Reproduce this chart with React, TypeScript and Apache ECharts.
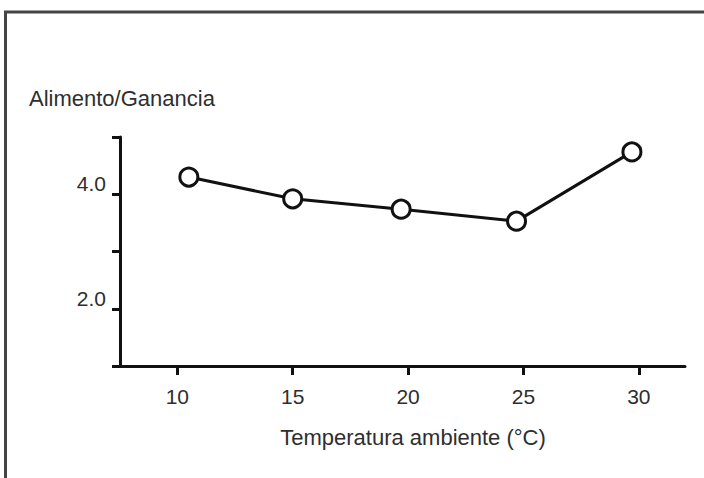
import React, { useEffect, useRef } from "react";
import * as echarts from "echarts";

const temperatures = [10.5, 15, 19.7, 24.7, 29.7];
const feedGain = [4.3, 3.92, 3.74, 3.53, 4.74];
const xTicks = [10, 15, 20, 25, 30];
const yLabelTicks = [2, 4];
const yTitle = "Alimento/Ganancia";
const xTitle = "Temperatura ambiente (°C)";

const FONT = "'Liberation Sans', Arial, sans-serif";
const TEXT = "#2e2e2e";

export default function App() {
  const ref = useRef<HTMLDivElement>(null);
  useEffect(() => {
    if (!ref.current) return;
    const chart = echarts.init(ref.current, null, { renderer: "svg" });
    chart.setOption({
      animation: false,
      backgroundColor: "#fff",
      grid: { left: 115, right: 19, top: 137, bottom: 112 },
      xAxis: {
        type: "value",
        min: 7.3,
        max: 32,
        splitLine: { show: false },
        axisLine: { show: true, lineStyle: { color: "#111", width: 3 } },
        axisTick: {
          show: true,
          customValues: xTicks,
          length: 9,
          inside: false,
          lineStyle: { color: "#111", width: 3 },
        },
        axisLabel: {
          customValues: xTicks,
          margin: 20,
          fontSize: 21,
          fontFamily: FONT,
          color: TEXT,
        },
      },
      yAxis: {
        type: "value",
        min: 1,
        max: 5,
        interval: 1,
        offset: -5,
        splitLine: { show: false },
        axisLine: { show: true, lineStyle: { color: "#111", width: 3 } },
        axisTick: {
          show: true,
          length: 8,
          lineStyle: { color: "#111", width: 3 },
        },
        axisLabel: {
          customValues: yLabelTicks,
          formatter: (v: number) => v.toFixed(1),
          margin: 14,
          verticalAlign: "bottom",
          fontSize: 21,
          fontFamily: FONT,
          color: TEXT,
        },
      },
      series: [
        {
          type: "line",
          data: temperatures.map((t, i) => [t, feedGain[i]]),
          symbol: "circle",
          symbolSize: 18,
          lineStyle: { color: "#111", width: 3 },
          itemStyle: { color: "#fff", borderColor: "#111", borderWidth: 3 },
          z: 3,
        },
      ],
      graphic: [
        {
          type: "rect",
          shape: { x: 5.5, y: 12, width: 800, height: 600 },
          style: { fill: "none", stroke: "#444", lineWidth: 3 },
          silent: true,
        },
        {
          type: "text",
          left: 29,
          top: 87,
          style: { text: yTitle, fontSize: 22, fontFamily: FONT, fill: TEXT },
        },
        {
          type: "text",
          x: 413,
          y: 437,
          style: {
            text: xTitle,
            fontSize: 22,
            fontFamily: FONT,
            fill: TEXT,
            align: "center",
            verticalAlign: "middle",
          },
        },
      ],
    });
    return () => chart.dispose();
  }, []);
  return (
    <div
      ref={ref}
      style={{ position: "absolute", left: 0, top: 0, width: 704, height: 478 }}
    />
  );
}
